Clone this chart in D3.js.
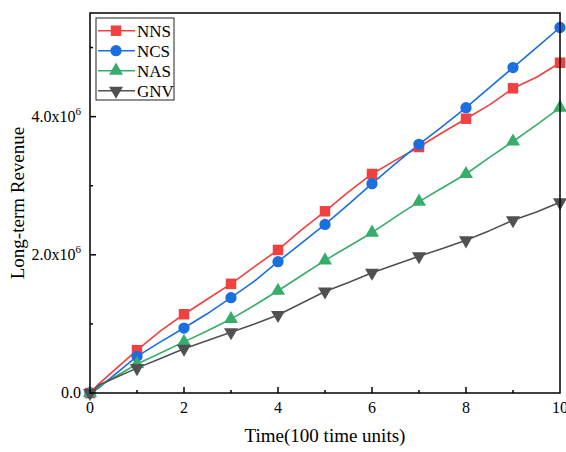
<!DOCTYPE html>
<html>
<head>
<meta charset="utf-8">
<script src="https://cdn.jsdelivr.net/npm/d3@7"></script>
<style>
    body { margin: 0; background: #fff; }
    text { font-family: "Liberation Serif", "Times New Roman", serif; fill: #000; }
</style>
</head>
<body>
<div id="chart"></div>
<script>
// time axis (100 time units)
const times = [0, 0.2, 0.5, 1, 1.5, 2, 2.5, 3, 3.5, 4, 4.5, 5, 5.5, 6, 6.5, 7, 7.5, 8, 8.5, 9, 9.5, 10];

// long-term revenue, in millions
const nns = [0, 0.14, 0.32, 0.62, 0.90, 1.14, 1.36, 1.58, 1.83, 2.07, 2.36, 2.63, 2.91, 3.17, 3.37, 3.56, 3.77, 3.97, 4.17, 4.41, 4.57, 4.78];
const ncs = [0, 0.08, 0.25, 0.53, 0.74, 0.94, 1.15, 1.38, 1.62, 1.90, 2.17, 2.44, 2.73, 3.03, 3.32, 3.60, 3.86, 4.13, 4.42, 4.71, 5.00, 5.29];
const nas = [0, 0.10, 0.22, 0.42, 0.58, 0.74, 0.90, 1.07, 1.27, 1.48, 1.70, 1.92, 2.12, 2.32, 2.55, 2.77, 2.97, 3.17, 3.41, 3.64, 3.88, 4.13];
const gnv = [0, 0.12, 0.21, 0.36, 0.50, 0.64, 0.76, 0.88, 1.00, 1.13, 1.30, 1.47, 1.60, 1.74, 1.86, 1.98, 2.09, 2.21, 2.35, 2.50, 2.62, 2.76];

const seriesNames = ['NNS', 'NCS', 'NAS', 'GNV'];
const seriesColors = ['#F14040', '#1A6FDF', '#37AD6B', '#515151'];
const seriesSymbols = [d3.symbolSquare, d3.symbolCircle, d3.symbolTriangle, d3.symbolTriangle];

const xTicks = [0, 2, 4, 6, 8, 10];
const yTicks = [0, 2, 4];
const yTickLabels = ['0.0', '2.0x10', '4.0x10'];

const series = [nns, ncs, nas, gnv].map((vals, i) => ({
    name: seriesNames[i],
    color: seriesColors[i],
    symbol: seriesSymbols[i],
    points: vals.map((v, j) => ({ x: times[j], y: v }))
}));

const W = 566, H = 452;
const margin = { top: 13, right: 6, bottom: 59, left: 90 },
    width = W - margin.left - margin.right,
    height = H - margin.top - margin.bottom;

const svg = d3.select('#chart')
    .append('svg')
    .attr('width', W)
    .attr('height', H);

const g = svg.append('g')
    .attr('transform', `translate(${margin.left},${margin.top})`);

const x = d3.scaleLinear().domain([0, 10]).range([0, width]);
const y = d3.scaleLinear().domain([0, 5.5]).range([height, 0]);

// lines
const line = d3.line().x(d => x(d.x)).y(d => y(d.y));

series.forEach(s => {
    g.append('path')
        .datum(s.points)
        .attr('fill', 'none')
        .attr('stroke', s.color)
        .attr('stroke-width', 1.6)
        .attr('stroke-linejoin', 'round')
        .attr('d', line);
});

// markers at every whole time step
function marker(sel, s) {
    const size = s.symbol === d3.symbolCircle ? 100 : (s.symbol === d3.symbolSquare ? 110 : 85);
    sel.attr('d', d3.symbol().type(s.symbol).size(size)())
        .attr('fill', s.color);
}

series.forEach(s => {
    g.selectAll(null)
        .data(s.points.filter(p => Number.isInteger(p.x)))
        .enter()
        .append('path')
        .call(marker, s)
        .attr('transform', d => `translate(${x(d.x)},${y(d.y)})` + (s.name === 'GNV' ? ' rotate(180)' : ''));
});

// frame
g.append('rect')
    .attr('width', width)
    .attr('height', height)
    .attr('fill', 'none')
    .attr('stroke', '#000')
    .attr('stroke-width', 1.5);

// x axis ticks (inward)
const xAxis = g.append('g').attr('transform', `translate(0,${height})`);
d3.range(1, 10).forEach(t => {
    const major = t % 2 === 0;
    xAxis.append('line')
        .attr('x1', x(t)).attr('x2', x(t))
        .attr('y1', 0).attr('y2', major ? -6 : -3)
        .attr('stroke', '#000').attr('stroke-width', 1.5);
});
xAxis.selectAll('text')
    .data(xTicks)
    .enter()
    .append('text')
    .attr('x', d => x(d))
    .attr('y', 20)
    .attr('text-anchor', 'middle')
    .attr('font-size', 16)
    .text(d => d);

// y axis ticks (inward)
const yAxis = g.append('g');
[1, 2, 3, 4, 5].forEach(t => {
    const major = t % 2 === 0;
    yAxis.append('line')
        .attr('x1', 0).attr('x2', major ? 6 : 3)
        .attr('y1', y(t)).attr('y2', y(t))
        .attr('stroke', '#000').attr('stroke-width', 1.5);
});
yTicks.forEach((t, i) => {
    const txt = yAxis.append('text')
        .attr('x', -9)
        .attr('y', y(t) + 5)
        .attr('text-anchor', 'end')
        .attr('font-size', 16);
    txt.append('tspan').text(yTickLabels[i]);
    if (t !== 0) {
        txt.append('tspan')
            .attr('dy', -7)
            .attr('font-size', 11)
            .text('6');
    }
});

// axis titles
svg.append('text')
    .attr('x', margin.left + width / 2)
    .attr('y', 442)
    .attr('text-anchor', 'middle')
    .attr('font-size', 19)
    .text('Time(100 time units)');

svg.append('text')
    .attr('transform', 'translate(24,203) rotate(-90)')
    .attr('text-anchor', 'middle')
    .attr('font-size', 19)
    .text('Long-term Revenue');

// legend
const legend = svg.append('g').attr('transform', 'translate(96,18)');
legend.append('rect')
    .attr('width', 78)
    .attr('height', 82)
    .attr('fill', '#fff')
    .attr('stroke', '#222')
    .attr('stroke-width', 1);

series.forEach((s, i) => {
    const row = legend.append('g').attr('transform', `translate(0,${12.7 + i * 20})`);
    row.append('line')
        .attr('x1', 2).attr('x2', 39)
        .attr('stroke', s.color).attr('stroke-width', 1.6);
    row.append('path')
        .call(marker, s)
        .attr('transform', 'translate(20,0)' + (s.name === 'GNV' ? ' rotate(180)' : ''));
    row.append('text')
        .attr('x', 41)
        .attr('y', 6)
        .attr('font-size', 17)
        .text(s.name);
});
</script>
</body>
</html>
